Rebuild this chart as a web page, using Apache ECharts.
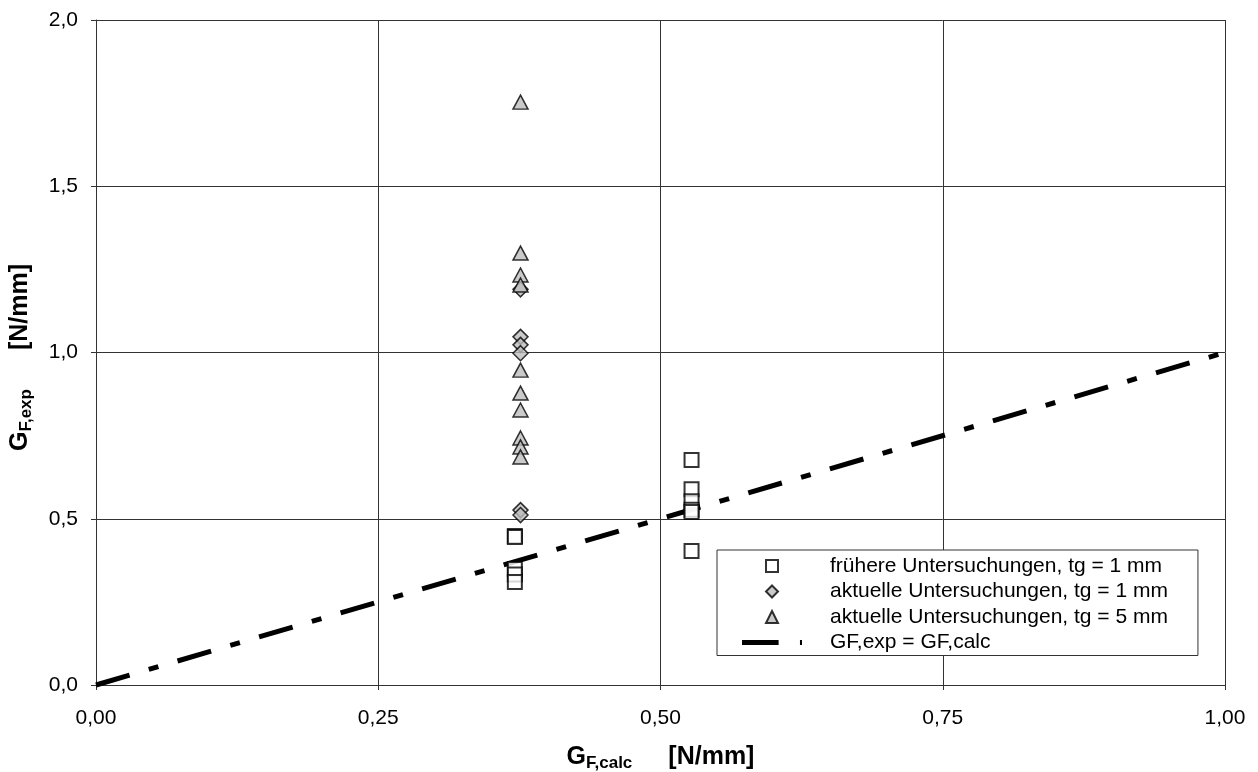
<!DOCTYPE html>
<html>
<head>
<meta charset="utf-8">
<script src="https://cdn.jsdelivr.net/npm/echarts@6/dist/echarts.min.js"></script>
<style>
  html, body { margin: 0; padding: 0; background: #fff; }
  #chart { width: 1258px; height: 772px; }
</style>
</head>
<body>
<div id="chart"></div>
<script>
// frühere Untersuchungen, tg = 1 mm
const earlierX = [0.371, 0.371, 0.371, 0.371, 0.371, 0.5275, 0.5275, 0.5275, 0.5275, 0.5275, 0.5275]
const earlierY = [0.448, 0.445, 0.349, 0.332, 0.31, 0.677, 0.589, 0.553, 0.527, 0.52, 0.403]

// aktuelle Untersuchungen, tg = 1 mm
const currentThinX = [0.376, 0.376, 0.376, 0.376, 0.376, 0.376]
const currentThinY = [1.19, 1.047, 1.023, 0.998, 0.526, 0.511]

// aktuelle Untersuchungen, tg = 5 mm
const currentThickX = [0.376, 0.376, 0.376, 0.376, 0.376, 0.376, 0.376, 0.376, 0.376, 0.376]
const currentThickY = [1.753, 1.299, 1.233, 1.203, 0.947, 0.878, 0.827, 0.743, 0.716, 0.686]

// GF,exp = GF,calc
const refLineX = [0, 1.01]
const refLineY = [0, 1.01]

const xTicks = [0, 0.25, 0.5, 0.75, 1.0]
const yTicks = [0, 0.5, 1.0, 1.5, 2.0]

const names = [
  "frühere Untersuchungen, tg = 1 mm",
  "aktuelle Untersuchungen, tg = 1 mm",
  "aktuelle Untersuchungen, tg = 5 mm",
  "GF,exp = GF,calc",
]

const zip = (xs, ys) => ys.map((y, i) => [xs[i], y])

const chart = echarts.init(document.getElementById("chart"))

const font = "'Liberation Sans', Arial, sans-serif"

// name rich styles (bold, with subscript)
const nameRich = (gap, tail) => ({
  g: { fontSize: 25, fontWeight: "bold", color: "#000", fontFamily: font },
  s: { fontSize: 17, fontWeight: "bold", color: "#000", fontFamily: font, padding: [12, 0, 0, 0] },
  u: { fontSize: 25, fontWeight: "bold", color: "#000", fontFamily: font, padding: [0, tail, 0, gap] },
})

const option = {
  backgroundColor: "#fff",
  textStyle: { fontFamily: font },
  animation: false,
  grid: {
    left: 96,
    right: 33,
    top: 20,
    bottom: 87,
    containLabel: false,
    outerBoundsMode: "none",
  },
  legend: {
    orient: "vertical",
    left: 717,
    top: 550,
    backgroundColor: "#fff",
    borderColor: "#333",
    borderWidth: 1,
    borderRadius: 0,
    padding: [4, 30, 1, 25],
    itemWidth: 60,
    itemHeight: 12,
    itemGap: 1.5,
    symbolKeepAspect: true,
    textStyle: {
      fontFamily: font,
      fontSize: 21,
      lineHeight: 24,
      color: "#000",
      padding: [0, 0, 0, 23],
    },
    data: [
      { name: names[0], icon: "path://M0,0H10V10H0Z" },
      { name: names[1], icon: "path://M5,0L10,5L5,10L0,5Z" },
      { name: names[2], icon: "path://M5,0L10,10H0Z" },
      { name: names[3], icon: "path://M0,0H36V5H0ZM57,0H59V5H57Z" },
    ],
  },
  xAxis: {
    type: "value",
    min: xTicks[0],
    max: xTicks[xTicks.length - 1],
    interval: 0.25,
    name: "{g|G}{s|F,calc}{u|[N/mm]}",
    nameLocation: "middle",
    nameGap: 58,
    nameTextStyle: { rich: nameRich(36, 0) },
    axisLine: { show: true, lineStyle: { color: "#333", width: 1 } },
    axisTick: { show: true, inside: false, length: 5, lineStyle: { color: "#333" } },
    axisLabel: {
      margin: 23,
      fontSize: 21,
      color: "#000",
      fontFamily: font,
      formatter: v => v.toFixed(2).replace(".", ","),
    },
    splitLine: { show: true, lineStyle: { color: "#333", width: 1 } },
  },
  yAxis: {
    type: "value",
    min: yTicks[0],
    max: yTicks[yTicks.length - 1],
    interval: 0.5,
    name: "{g|G}{s|F,exp}{u|[N/mm]}",
    nameLocation: "middle",
    nameRotate: 90,
    nameGap: 61,
    nameTextStyle: { rich: nameRich(39, 10) },
    axisLine: { show: true, lineStyle: { color: "#333", width: 1 } },
    axisTick: { show: true, inside: false, length: 5, lineStyle: { color: "#333" } },
    axisLabel: {
      margin: 18,
      fontSize: 21,
      color: "#000",
      fontFamily: font,
      formatter: v => v.toFixed(1).replace(".", ","),
    },
    splitLine: { show: true, lineStyle: { color: "#333", width: 1 } },
  },
  series: [
    {
      name: names[0],
      type: "scatter",
      symbol: "rect",
      symbolSize: 14,
      itemStyle: { color: "#fff", borderColor: "#000", borderWidth: 2 },
      data: zip(earlierX, earlierY),
      z: 3,
    },
    {
      name: names[1],
      type: "scatter",
      symbol: "diamond",
      symbolSize: [15, 15],
      itemStyle: { color: "#bdbdbd", borderColor: "#000", borderWidth: 1.5 },
      data: zip(currentThinX, currentThinY),
      z: 4,
    },
    {
      name: names[2],
      type: "scatter",
      symbol: "triangle",
      symbolSize: [15, 14],
      itemStyle: { color: "#bdbdbd", borderColor: "#000", borderWidth: 1.5 },
      data: zip(currentThickX, currentThickY),
      z: 5,
    },
    {
      name: names[3],
      type: "line",
      showSymbol: false,
      symbol: "none",
      clip: false,
      lineStyle: { color: "#000", width: 5, type: [35, 20, 10, 20] },
      itemStyle: { color: "#000" },
      data: zip(refLineX, refLineY),
      z: 2,
    },
  ],
}

chart.setOption(option)

window.addEventListener("resize", () => chart.resize())
</script>
</body>
</html>
